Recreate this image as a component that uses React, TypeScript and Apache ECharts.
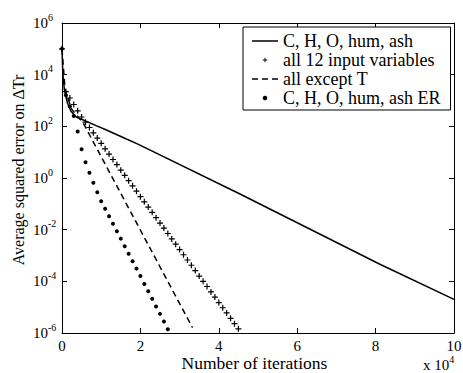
import React, { useEffect, useRef } from 'react';
import * as echarts from 'echarts';

const FONT = 'Liberation Serif, Times New Roman, serif';

// Series 1: C, H, O, hum, ash (solid line)
const solidIter = [0, 200, 600, 1400, 2300, 3600, 5300, 8700, 11200, 16300, 19500, 45400, 81100, 100000];
const solidErr = [1e5, 1.15e4, 2.6e3, 8.0e2, 3.8e2, 2.3e2, 1.8e2, 1.07e2, 7.4e1, 3.3e1, 2.0e1, 2.4e-1, 4.6e-4, 2.0e-5];

// Series 2: all 12 input variables (+ markers)
const plusIter = [
  0, 1000, 2000, 3000, 4000, 5000, 6000, 7000, 8000, 9000,
  10000, 11000, 12000, 13000, 14000, 15000, 16000, 17000, 18000, 19000,
  20000, 21000, 22000, 23000, 24000, 25000, 26000, 27000, 28000, 29000,
  30000, 31000, 32000, 33000, 34000, 35000, 36000, 37000, 38000, 39000,
  40000, 41000, 42000, 43000, 44000, 45000,
];
const plusErr = [
  1e5, 2.2e3, 1.25e3, 7.0e2, 4.0e2, 2.3e2, 1.45e2, 9.0e1, 5.6e1, 3.5e1,
  2.2e1, 1.35e1, 8.4, 5.2, 3.3, 2.0, 1.27, 0.79, 0.5, 0.31,
  0.19, 0.12, 7.5e-2, 4.7e-2, 2.9e-2, 1.8e-2, 1.15e-2, 7.1e-3, 4.4e-3, 2.75e-3,
  1.7e-3, 1.07e-3, 6.7e-4, 4.2e-4, 2.6e-4, 1.6e-4, 1.0e-4, 6.3e-5, 3.9e-5, 2.45e-5,
  1.5e-5, 9.5e-6, 6.0e-6, 3.7e-6, 2.3e-6, 1.45e-6,
];

// Series 3: all except T (dashed line)
const dashIter = [0, 800, 2500, 5400, 33300];
const dashErr = [1e5, 2.5e3, 4.5e2, 1.35e2, 1.6e-6];

// Series 4: C, H, O, hum, ash ER (dots)
const dotIter = [
  0, 1000, 2000, 3000, 4000, 5000, 6000, 7000, 8000, 9000,
  10000, 11000, 12000, 13000, 14000, 15000, 16000, 17000, 18000, 19000,
  20000, 21000, 22000, 23000, 24000, 25000, 26000, 27000,
];
const dotErr = [
  1e5, 1.6e3, 6.0e2, 2.5e2, 6.3e1, 1.3e1, 4.1, 1.6, 0.65, 0.28,
  0.126, 0.065, 0.033, 0.017, 8.7e-3, 4.5e-3, 2.3e-3, 1.17e-3, 6.0e-4, 3.1e-4,
  1.6e-4, 7.9e-5, 4.1e-5, 2.1e-5, 1.07e-5, 5.5e-6, 2.8e-6, 1.4e-6,
];

const seriesNames = ['C, H, O, hum, ash', 'all 12 input variables', 'all except T', 'C, H, O, hum, ash ER'];

const PLUS = 'path://M4,0H6V4H10V6H6V10H4V6H0V4H4Z';
const zip = (xs: number[], ys: number[]) => xs.map((x, i) => [x, ys[i]]);

export default function App() {
  const ref = useRef<HTMLDivElement>(null);
  useEffect(() => {
    document.body.style.margin = '0';
    const chart = echarts.init(ref.current!, null, { renderer: 'svg' });
    const axisLine = { show: true, onZero: false, lineStyle: { color: '#000', width: 1 } };
    const axisTick = { show: true, inside: true, length: 5, lineStyle: { color: '#000', width: 1 } };
    const supRich = {
      b: { fontSize: 15, fontFamily: FONT, color: '#000', lineHeight: 22 },
      s: { fontSize: 10, fontFamily: FONT, color: '#000', verticalAlign: 'top', lineHeight: 10 },
    };
    chart.setOption({
      animation: false,
      backgroundColor: '#fff',
      textStyle: { fontFamily: FONT, color: '#000' },
      grid: { left: 62, right: 9, top: 23, bottom: 40, containLabel: false, outerBoundsMode: 'none' },
      legend: {
        orient: 'vertical',
        left: 243,
        top: 27,
        padding: [5, 10, 3, 9],
        itemGap: 1,
        itemWidth: 26,
        itemHeight: 4.5,
        borderColor: '#000',
        borderWidth: 1,
        borderRadius: 0,
        backgroundColor: '#fff',
        selectedMode: false,
        itemStyle: { borderWidth: 0 },
        textStyle: { fontFamily: FONT, fontSize: 18, color: '#000', lineHeight: 18 },
        data: [
          { name: seriesNames[0], icon: 'path://M0,0H26V1.5H0Z' },
          { name: seriesNames[1], icon: PLUS },
          { name: seriesNames[2], icon: 'path://M0,0H6V1.5H0ZM10,0H16V1.5H10ZM20,0H26V1.5H20Z' },
          { name: seriesNames[3], icon: 'circle' },
        ],
      },
      xAxis: [
        {
          type: 'value', min: 0, max: 100000, interval: 20000, position: 'bottom',
          axisLine, axisTick, splitLine: { show: false },
          axisLabel: { formatter: (v: number) => String(v / 10000), fontSize: 15, fontFamily: FONT, color: '#000', margin: 5 },
        },
        {
          type: 'value', min: 0, max: 100000, interval: 20000, position: 'top',
          axisLine, axisTick, splitLine: { show: false }, axisLabel: { show: false },
        },
      ],
      yAxis: [
        {
          type: 'log', logBase: 10, min: 1e-6, max: 1e6, interval: 2, position: 'left',
          axisLine, axisTick, splitLine: { show: false }, minorTick: { show: false },
          axisLabel: {
            formatter: (v: number) => `{b|10}{s|${Math.round(Math.log10(v))}}`,
            rich: supRich, align: 'left', margin: 29,
          },
        },
        {
          type: 'log', logBase: 10, min: 1e-6, max: 1e6, interval: 2, position: 'right',
          axisLine, axisTick, splitLine: { show: false }, minorTick: { show: false }, axisLabel: { show: false },
        },
      ],
      series: [
        {
          name: seriesNames[0], type: 'line', data: zip(solidIter, solidErr), symbol: 'none', silent: true,
          lineStyle: { color: '#000', width: 1.5 }, itemStyle: { color: '#000' },
        },
        {
          name: seriesNames[1], type: 'line', data: zip(plusIter, plusErr), symbol: PLUS, symbolSize: 6,
          showSymbol: true, showAllSymbol: true, silent: true,
          lineStyle: { width: 0, opacity: 0 }, itemStyle: { color: '#000', borderWidth: 0 },
        },
        {
          name: seriesNames[2], type: 'line', data: zip(dashIter, dashErr), symbol: 'none', silent: true,
          lineStyle: { color: '#000', width: 1.5, type: [6, 4] }, itemStyle: { color: '#000' },
        },
        {
          name: seriesNames[3], type: 'line', data: zip(dotIter, dotErr), symbol: 'circle', symbolSize: 4,
          showSymbol: true, showAllSymbol: true, silent: true,
          lineStyle: { width: 0, opacity: 0 }, itemStyle: { color: '#000', borderWidth: 0 },
        },
      ],
      graphic: [
        {
          type: 'text', x: 18, y: 170, rotation: Math.PI / 2,
          style: { text: 'Average squared error on ΔTr', fontSize: 16, fontFamily: FONT, fill: '#000', align: 'center', verticalAlign: 'middle' },
        },
        {
          type: 'text', x: 254.5, y: 363,
          style: { text: 'Number of iterations', fontSize: 17.5, fontFamily: FONT, fill: '#000', align: 'center', verticalAlign: 'middle' },
        },
        {
          type: 'text', x: 423, y: 365,
          style: { text: '{b|x 10}{s|4}', rich: supRich, fill: '#000', align: 'left', verticalAlign: 'middle' },
        },
      ],
    });
    return () => chart.dispose();
  }, []);
  return <div ref={ref} style={{ width: 463, height: 373, background: '#fff' }} />;
}
